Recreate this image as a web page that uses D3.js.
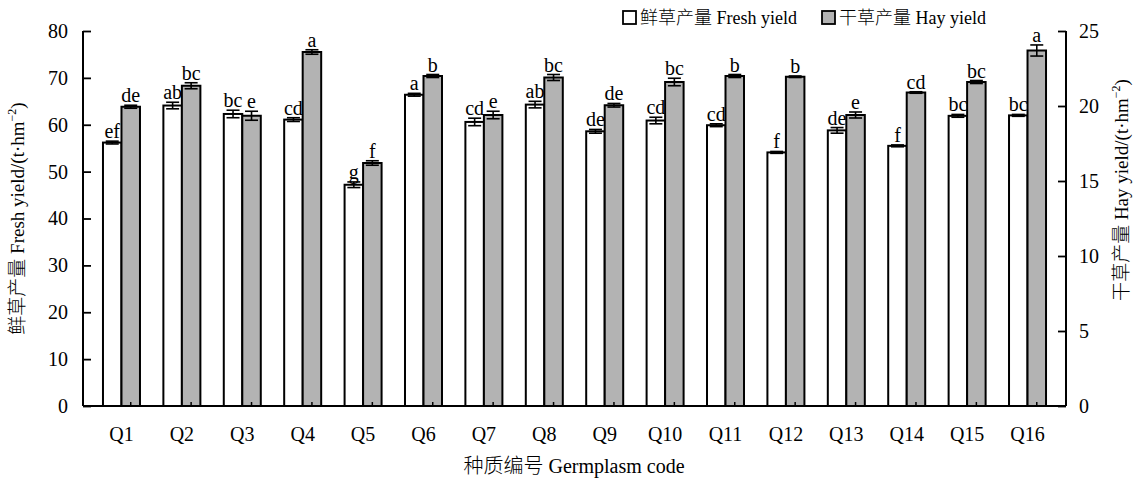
<!DOCTYPE html>
<html>
<head>
<meta charset="utf-8">
<script src="https://cdn.jsdelivr.net/npm/d3@7"></script>
<style>
  html, body { margin: 0; padding: 0; background: #fff; }
  svg { display: block; }
  text { font-family: "Liberation Serif", "Times New Roman", "Noto Sans CJK SC", serif; fill: #000; }
  tspan.cjk { font-family: "Noto Sans CJK SC", sans-serif; font-weight: 300; }
</style>
</head>
<body>
<svg id="chart" width="1140" height="480"></svg>
<script>
// Germplasm codes
const categories = ["Q1","Q2","Q3","Q4","Q5","Q6","Q7","Q8","Q9","Q10","Q11","Q12","Q13","Q14","Q15","Q16"];

// Fresh yield (t·hm⁻²), left axis
const freshYield = [56.2, 64.1, 62.3, 61.1, 47.2, 66.4, 60.6, 64.3, 58.6, 60.9, 59.9, 54.1, 58.8, 55.5, 61.9, 62.0];
const freshErr   = [0.3, 0.7, 0.8, 0.4, 0.6, 0.3, 0.8, 0.7, 0.4, 0.7, 0.3, 0.2, 0.6, 0.2, 0.3, 0.2];
const freshSig   = ["ef","ab","bc","cd","g","a","cd","ab","de","cd","cd","f","de","f","bc","bc"];

// Hay yield (t·hm⁻²), right axis
const hayYield = [19.95, 21.35, 19.35, 23.6, 16.2, 22.0, 19.4, 21.9, 20.05, 21.6, 22.0, 21.95, 19.4, 20.9, 21.6, 23.7];
const hayErr   = [0.1, 0.2, 0.3, 0.15, 0.15, 0.1, 0.25, 0.2, 0.12, 0.25, 0.1, 0.05, 0.2, 0.05, 0.1, 0.37];
const haySig   = ["de","bc","e","a","f","b","e","bc","de","bc","b","b","e","cd","bc","a"];

// Axis tick values
const leftTicks  = [0, 10, 20, 30, 40, 50, 60, 70, 80];
const rightTicks = [0, 5, 10, 15, 20, 25];

const svg = d3.select("#chart");

const plot = { left: 83, right: 1066, top: 31, bottom: 406 };
const barW = 18.5;

const x = d3.scaleBand()
  .domain(categories)
  .range([plot.left, plot.right])
  .paddingInner(0)
  .paddingOuter(0.137);

const yL = d3.scaleLinear().domain([0, 80]).range([plot.bottom, plot.top]);
const yR = d3.scaleLinear().domain([0, 25]).range([plot.bottom, plot.top]);

const center = d => x(d) + x.bandwidth() / 2;

const rows = categories.map((c, i) => ({
  cat: c,
  fresh: freshYield[i], freshErr: freshErr[i], freshSig: freshSig[i],
  hay: hayYield[i], hayErr: hayErr[i], haySig: haySig[i]
}));

// Bars: fresh (white) on the left of each pair, hay (grey) on the right
const g = svg.append("g");

g.selectAll("rect.fresh").data(rows).join("rect")
  .attr("class", "fresh")
  .attr("x", d => center(d.cat) - barW)
  .attr("y", d => yL(d.fresh))
  .attr("width", barW)
  .attr("height", d => yL(0) - yL(d.fresh))
  .attr("fill", "#fff")
  .attr("stroke", "#000")
  .attr("stroke-width", 2);

g.selectAll("rect.hay").data(rows).join("rect")
  .attr("class", "hay")
  .attr("x", d => center(d.cat))
  .attr("y", d => yR(d.hay))
  .attr("width", barW)
  .attr("height", d => yR(0) - yR(d.hay))
  .attr("fill", "#b3b3b3")
  .attr("stroke", "#000")
  .attr("stroke-width", 2);

// Error bars
const capW = 13;
function errorBars(cls, xc, yTop, yBot) {
  const eg = g.selectAll("g." + cls).data(rows).join("g").attr("class", cls)
    .attr("stroke", "#000").attr("stroke-width", 1.6);
  eg.append("line")
    .attr("x1", xc).attr("x2", xc)
    .attr("y1", yTop).attr("y2", yBot);
  eg.append("line")
    .attr("x1", d => xc(d) - capW / 2).attr("x2", d => xc(d) + capW / 2)
    .attr("y1", yTop).attr("y2", yTop);
  eg.append("line")
    .attr("x1", d => xc(d) - capW / 2).attr("x2", d => xc(d) + capW / 2)
    .attr("y1", yBot).attr("y2", yBot);
}
errorBars("err-fresh",
  d => center(d.cat) - barW / 2,
  d => yL(d.fresh + d.freshErr),
  d => yL(d.fresh - d.freshErr));
errorBars("err-hay",
  d => center(d.cat) + barW / 2,
  d => yR(d.hay + d.hayErr),
  d => yR(d.hay - d.hayErr));

// Significance letters
g.selectAll("text.sig-fresh").data(rows).join("text")
  .attr("class", "sig-fresh")
  .attr("x", d => center(d.cat) - barW / 2)
  .attr("y", d => yL(d.fresh + d.freshErr) - 3)
  .attr("text-anchor", "middle")
  .attr("font-size", 20)
  .attr("fill", "#000")
  .text(d => d.freshSig);

g.selectAll("text.sig-hay").data(rows).join("text")
  .attr("class", "sig-hay")
  .attr("x", d => center(d.cat) + barW / 2)
  .attr("y", d => yR(d.hay + d.hayErr) - 3)
  .attr("text-anchor", "middle")
  .attr("font-size", 20)
  .attr("fill", "#000")
  .text(d => d.haySig);

// Left axis
const axL = svg.append("g")
  .attr("transform", `translate(${plot.left},0)`)
  .call(d3.axisLeft(yL).tickValues(leftTicks).tickSize(-8).tickPadding(15));
// Right axis
const axR = svg.append("g")
  .attr("transform", `translate(${plot.right},0)`)
  .call(d3.axisRight(yR).tickValues(rightTicks).tickSize(-8).tickPadding(13));
// Bottom axis with category labels
const axB = svg.append("g")
  .attr("transform", `translate(0,${plot.bottom})`)
  .call(d3.axisBottom(x).tickSize(0).tickPadding(21));
// Small inner marks along the baseline
svg.append("g").selectAll("line").data(categories).join("line")
  .attr("x1", d => center(d) + barW / 2).attr("x2", d => center(d) + barW / 2)
  .attr("y1", plot.bottom).attr("y2", plot.bottom - 4)
  .attr("stroke", "#000").attr("stroke-width", 1.5);

[axL, axR, axB].forEach(a => {
  a.select(".domain").attr("stroke", "#000").attr("stroke-width", 2);
  a.selectAll(".tick line").attr("stroke", "#000").attr("stroke-width", 1.8);
  a.selectAll(".tick text").attr("font-family", "'Liberation Serif', serif")
    .attr("font-size", 20).attr("fill", "#000");
});
axB.select(".domain").attr("d", `M${plot.left},0H${plot.right}`);
axL.select(".domain").attr("d", `M0,${plot.top}V${plot.bottom}`);
axR.select(".domain").attr("d", `M0,${plot.top}V${plot.bottom}`);

// Axis titles
svg.append("text")
  .attr("transform", `translate(24,${(plot.top + plot.bottom) / 2}) rotate(-90)`)
  .attr("text-anchor", "middle")
  .attr("font-size", 19)
  .attr("fill", "#000")
  .html('<tspan class="cjk">鲜草产量</tspan> Fresh yield/(t·hm<tspan dy="-8" font-size="12">−2</tspan><tspan dy="8">)</tspan>');

svg.append("text")
  .attr("transform", `translate(1128,190) rotate(-90)`)
  .attr("text-anchor", "middle")
  .attr("font-size", 19)
  .attr("fill", "#000")
  .html('<tspan class="cjk">干草产量</tspan> Hay yield/(t·hm<tspan dy="-8" font-size="12">−2</tspan><tspan dy="8">)</tspan>');

svg.append("text")
  .attr("x", 574).attr("y", 473)
  .attr("text-anchor", "middle")
  .attr("font-size", 20)
  .attr("fill", "#000")
  .html('<tspan class="cjk">种质编号</tspan> Germplasm code');

// Legend
const legend = svg.append("g").attr("transform", "translate(623,11)");
const legendItems = [
  { zh: "鲜草产量", en: " Fresh yield", fill: "#fff", dx: 0 },
  { zh: "干草产量", en: " Hay yield", fill: "#b3b3b3", dx: 199 }
];
const li = legend.selectAll("g").data(legendItems).join("g")
  .attr("transform", d => `translate(${d.dx},0)`);
li.append("rect")
  .attr("width", 13).attr("height", 13)
  .attr("fill", d => d.fill).attr("stroke", "#000").attr("stroke-width", 1.8);
const lt = li.append("text")
  .attr("x", 17).attr("y", 13)
  .attr("font-size", 18)
  .attr("fill", "#000");
lt.append("tspan").attr("class", "cjk").text(d => d.zh);
lt.append("tspan").text(d => d.en);
</script>
</body>
</html>
